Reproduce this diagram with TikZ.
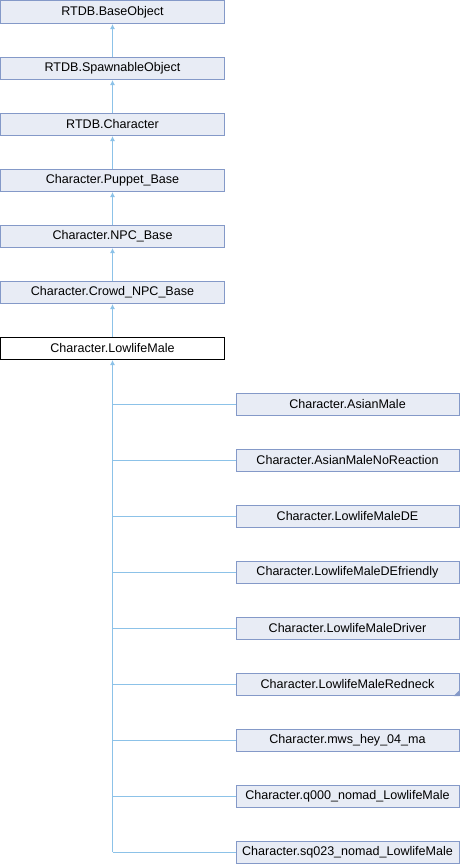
\documentclass[tikz,border=0pt]{standalone}
\usepackage{fontspec}
\setmainfont{Liberation Sans}
\usetikzlibrary{arrows.meta}
\definecolor{edgeblue}{HTML}{8CC2E8}
\definecolor{boxfill}{HTML}{E8ECF5}
\definecolor{boxborder}{HTML}{8499C8}
\begin{document}
\begin{tikzpicture}[x=1bp,y=-1bp,line width=1bp,
    classbox/.style={draw=boxborder, fill=boxfill, minimum width=223bp, minimum height=22.5bp,
      inner sep=0, anchor=north west, font=\fontsize{12.55bp}{14bp}\selectfont},
    inherit/.style={draw=edgeblue, -{Latex[length=5bp,width=5bp,fill=edgeblue]}}]
                \useasboundingbox (0,0) rectangle (460,864);
                \newcommand{\rowgap}{56}
                \newcommand{\rightx}{235.5}

                % Draw base classes
                \foreach \name [count=\i from 0] in {RTDB.BaseObject,RTDB.SpawnableObject,RTDB.Character,Character.Puppet\_Base,Character.NPC\_Base,Character.Crowd\_NPC\_Base} {
                    \node[classbox] (base\i) at (0.5,\i*\rowgap+0.5) {\name};
                }
                \node[classbox, draw=black, fill=white] (lowlife) at (0.5,6*\rowgap+0.5) {Character.LowlifeMale};

                % Draw derived classes
                \foreach \name [count=\k from 0] in {Character.AsianMale,Character.AsianMaleNoReaction,Character.LowlifeMaleDE,Character.LowlifeMaleDEfriendly,Character.LowlifeMaleDriver,Character.LowlifeMaleRedneck,Character.mws\_hey\_04\_ma,Character.q000\_nomad\_LowlifeMale,Character.sq023\_nomad\_LowlifeMale} {
                    \node[classbox] (derived\k) at (\rightx,392.5+\k*\rowgap) {\name};
                }
                \fill[boxborder] (derived5.south east) -- ++(-6,0) -- ++(6,-6) -- cycle;

                % Draw inheritance arrows
                \foreach \i/\j in {1/0,2/1,3/2,4/3,5/4} {
                    \draw[inherit] (base\i) -- (base\j);
                }
                \draw[inherit] (lowlife) -- (base5);
                \coordinate (trunkend) at (lowlife.south |- derived8.west);
                \draw[inherit] (trunkend) -- (lowlife.south);
                \foreach \k in {0,...,8} {
                    \draw[edgeblue] (derived\k.west) -- (derived\k.west -| lowlife.south);
                }
            \end{tikzpicture}
\end{document}
